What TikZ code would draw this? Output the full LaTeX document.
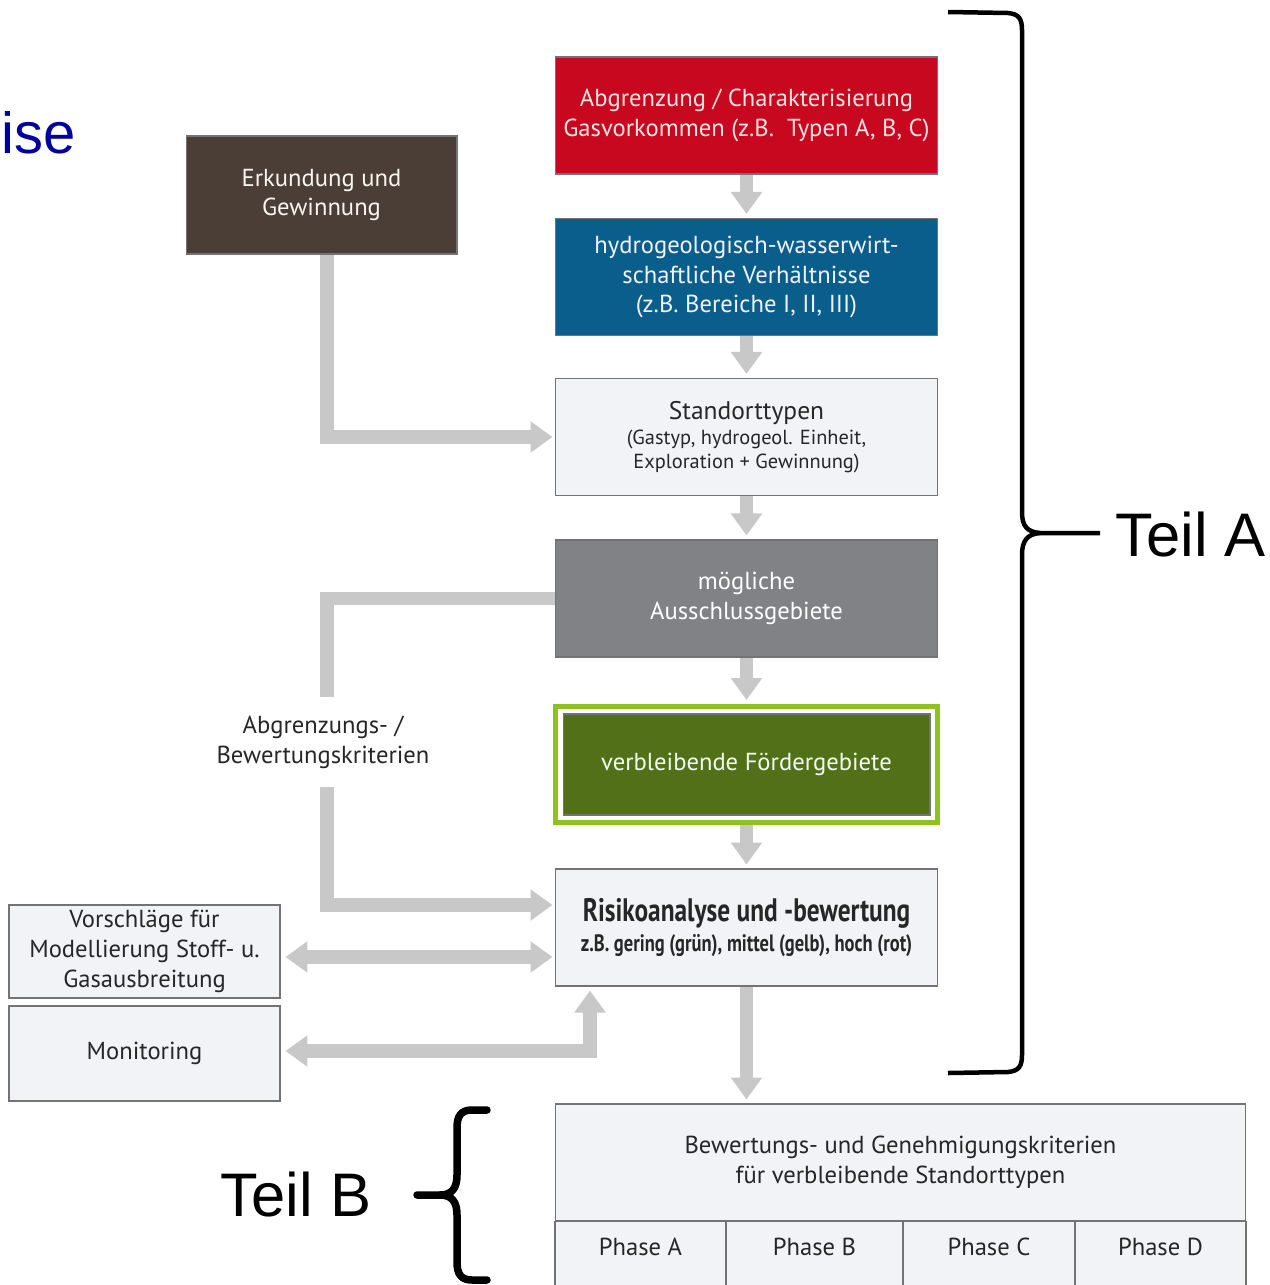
\documentclass[tikz,border=0pt]{standalone}
\usepackage{fontspec}
\setsansfont{PT Sans}
\newfontfamily\headfont{Liberation Sans}
\newfontfamily\condfont[FakeStretch=0.78]{PT Sans}
\usetikzlibrary{arrows.meta}

\definecolor{redbox}{RGB}{200,8,30}
\definecolor{bluebox}{RGB}{10,94,140}
\definecolor{greybox}{RGB}{128,130,133}
\definecolor{greenbox}{RGB}{82,112,24}
\definecolor{limeframe}{RGB}{141,194,31}
\definecolor{brownbox}{RGB}{74,62,54}
\definecolor{lightbox}{RGB}{241,243,246}
\definecolor{arrowgray}{RGB}{200,200,200}
\definecolor{iseblue}{RGB}{0,0,160}

\tikzset{
  box/.style={draw=black!55, line width=0.6pt, minimum width=7.66cm, minimum height=2.34cm,
    align=center, inner sep=0pt, font=\sffamily\fontsize{14}{17}\selectfont},
  pale/.style={box, fill=lightbox, text=black!85},
  sidebox/.style={pale, minimum width=5.42cm},
  flowline/.style={draw=arrowgray, line width=0.27cm},
  flow/.style={flowline, -{Triangle[width=0.6cm,length=0.44cm]}},
  flowboth/.style={flowline, {Triangle[width=0.6cm,length=0.44cm]}-{Triangle[width=0.6cm,length=0.44cm]}},
  brace/.style={draw=black, line width=0.09cm},
  teil/.style={font=\headfont\fontsize{35}{40}\selectfont, inner sep=0pt},
}

\begin{document}
\begin{tikzpicture}[x=0.02cm, y=-0.02cm]
    \useasboundingbox (0,0) rectangle (1270,1285);
    \clip (0,0) rectangle (1270,1285);

    % main column
    \node[box, fill=redbox, text=red!10] (abgr) at (746.5,115.5)
        {Abgrenzung / Charakterisierung\\Gasvorkommen (z.B.\ \ Typen A, B, C)};
    \node[box, fill=bluebox, text=blue!5] (hydro) at (746.5,277)
        {hydrogeologisch-wasserwirt-\\schaftliche Verhältnisse\\(z.B. Bereiche I, II, III)};
    \node[pale] (stand) at (746.5,437)
        {\fontsize{14.5}{15}\selectfont Standorttypen\\[-0.1cm]\fontsize{11.6}{13}\selectfont (Gastyp, hydrogeol. Einheit,\\[-0.12cm]\fontsize{11.6}{13}\selectfont Exploration + Gewinnung)};
    \node[box, fill=greybox, text=white] (moeg) at (746.5,598.5) {mögliche\\Ausschlussgebiete};
    \node[draw=limeframe, line width=0.1cm, fill=white, minimum width=7.64cm, minimum height=2.32cm] (restfr) at (746.5,764.5) {};
    \node[box, fill=greenbox, text=green!5!white, minimum width=7.34cm, minimum height=2.02cm] (rest) at (restfr) {verbleibende Fördergebiete};
    \node[pale] (risk) at (746.5,927.5)
        {\condfont\bfseries\fontsize{18.5}{20}\selectfont Risikoanalyse und -bewertung\\\condfont\bfseries\fontsize{13.5}{15}\selectfont z.B. gering (grün), mittel (gelb), hoch (rot)};

    % left side
    \node[box, fill=brownbox, text=white!92!brown, minimum width=5.42cm, minimum height=2.36cm] (erk) at (321.5,195) {Erkundung und\\Gewinnung};
    \node[font=\sffamily\fontsize{14}{17}\selectfont, text=black!85, align=center, inner sep=0pt, minimum height=1.8cm] (krit) at (323,742) {Abgrenzungs- /\\Bewertungskriterien};
    \node[sidebox, minimum height=1.86cm] (vor) at (144.5,951.5) {Vorschläge für\\Modellierung Stoff- u.\\Gasausbreitung};
    \node[sidebox, minimum height=1.9cm] (mon) at (144.5,1053.5) {Monitoring};

    % Teil B table
    \node[pale, minimum width=13.82cm] (bew) at (900.5,1162.5) {Bewertungs- und Genehmigungskriterien\\für verbleibende Standorttypen};
    \node[pale, anchor=north, minimum width=3.42cm, minimum height=0pt, text height=0.68cm, text depth=0.7cm] (pa) at (640.5,1221) {Phase A};
    \node[pale, anchor=north, minimum width=3.54cm, minimum height=0pt, text height=0.68cm, text depth=0.7cm] (pb) at (814.5,1221) {Phase B};
    \node[pale, anchor=north, minimum width=3.44cm, minimum height=0pt, text height=0.68cm, text depth=0.7cm] (pc) at (989,1221) {Phase C};
    \node[pale, anchor=north, minimum width=3.42cm, minimum height=0pt, text height=0.68cm, text depth=0.7cm] (pd) at (1160.5,1221) {Phase D};

    % arrows
    \draw[flow, shorten >=0.08cm] (abgr) -- (hydro);
    \draw[flow, shorten >=0.08cm] (hydro) -- (stand);
    \draw[flow, shorten >=0.08cm] (stand) -- (moeg);
    \draw[flow, shorten >=0.08cm] (moeg) -- (restfr);
    \draw[flow, shorten >=0.08cm] (restfr) -- (risk);
    \draw[flow, shorten >=0.08cm] (risk.south) -- (risk.south |- bew.north);
    \draw[flow, shorten >=0.04cm] (erk.south -| 327,0) |- (stand.west);
    \draw[flowline] (moeg.west) -| (krit.north -| 327,0);
    \draw[flow, shorten >=0.04cm] (krit.south -| 327,0) |- ([yshift=0.45cm]risk.west);
    \draw[flowboth, shorten <=0.1cm, shorten >=0.04cm] (vor.east |- 0,957) -- (risk.west |- 0,957);
    \draw[flowboth, shorten <=0.1cm, shorten >=0.08cm] (mon.east |- 0,1051) -| (590,0 |- risk.south);

    % braces
    \draw[brace] (948,12) -- (1008,13) .. controls (1019,14) and (1022,19) .. (1022,30)
        -- (1022,512) .. controls (1022,526) and (1027,532) .. (1040,533) -- (1100,533);
    \draw[brace] (1040,533) .. controls (1027,534) and (1022,541) .. (1022,555)
        -- (1022,1055) .. controls (1022,1066) and (1019,1071) .. (1008,1072) -- (948,1073);
    \node[teil, anchor=west] (teila) at (1115,535) {Teil A};
    \draw[brace, line width=0.15cm, line cap=round] (487,1110) -- (472,1110) .. controls (461,1110) and (457,1116) .. (457,1128)
        -- (457,1175) .. controls (457,1188) and (452,1195) .. (440,1195) -- (417,1195);
    \draw[brace, line width=0.15cm, line cap=round] (440,1195) .. controls (452,1195) and (457,1202) .. (457,1215)
        -- (457,1262) .. controls (457,1274) and (461,1280) .. (472,1280) -- (487,1280);
    \node[teil] (teilb) at (296,1195) {Teil B};

    \node[font=\headfont\fontsize{33}{40}\selectfont, text=iseblue, anchor=base west, inner sep=0pt] (ise) at (1,153) {ise};
\end{tikzpicture}
\end{document}
